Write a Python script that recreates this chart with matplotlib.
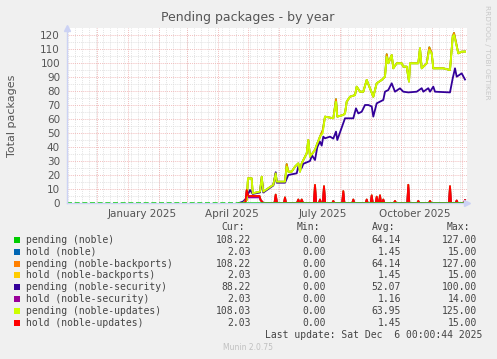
import numpy as np
import matplotlib
matplotlib.use("Agg")
import matplotlib.pyplot as plt
import matplotlib.dates as mdates
from matplotlib.patches import Rectangle

# days counted from 2024-11-01 (left edge of the year graph)
start = np.datetime64('2024-11-01')
end = np.datetime64('2025-12-06')

# pending (noble-updates)
upd_days = [172, 176, 179.7, 181, 184.7, 185.7, 193, 194.7, 196.3, 206.3, 208.7, 209.7,
            218, 219.7, 221.3, 224.7, 228, 231.3, 233, 234.7, 239.7, 241.3, 243, 248,
            249.7, 253, 255.7, 258, 266.3, 269, 270.3, 276.3, 278, 279.7, 283, 288,
            289.7, 293, 296.3, 299.7, 306.3, 309.7, 314.7, 318, 319.7, 321.3, 324.7, 326.3,
            329.7, 334.7, 336.3, 339.7, 342, 343, 351.3, 353, 354.7, 359.7, 362.3, 364.7,
            366.3, 376.3, 383, 385.7, 387, 391.3, 394.7, 398]
upd_vals = [0, 0, 2.1, 17.6, 17.6, 6.9, 8.1, 18.8, 8.1, 12.9, 21.2, 15.2,
            15.2, 26, 22.4, 22.4, 26, 28.3, 22.4, 28.3, 35.5, 45, 33.1, 37.9,
            41.4, 47.4, 49.8, 61.7, 60.5, 72.4, 61.7, 62.9, 64, 72.4, 75.9, 77.1,
            83.1, 79.5, 79.5, 87.9, 75.9, 85.5, 87.9, 90.2, 104.5, 99.8, 105.7, 96.2,
            99.8, 99.8, 97.4, 97.4, 86.7, 99.8, 99.8, 110.5, 96.2, 99.8, 109.3, 106.9,
            96.2, 96.2, 95, 118.8, 120, 106.9, 108.1, 108]

# pending (noble) == pending (noble-backports), a little above updates at peaks
noble_vals = [0, 0, 2.1, 17.6, 17.6, 6.9, 8.1, 18.8, 8.1, 12.9, 21.2, 15.2,
              15.2, 27.8, 22.4, 22.4, 26, 28.3, 22.4, 28.3, 35.5, 45, 33.1, 37.9,
              41.4, 47.4, 51.8, 61.7, 60.5, 74.2, 61.7, 62.9, 64, 72.4, 75.9, 77.1,
              83.1, 79.5, 79.5, 87.9, 75.9, 85.5, 87.9, 90.2, 106.3, 99.8, 105.7, 96.2,
              99.8, 99.8, 97.4, 97.4, 86.7, 99.8, 99.8, 110.5, 96.2, 99.8, 111.2, 106.9,
              96.2, 96.2, 95, 118.8, 121.5, 106.9, 108.1, 108.2]

# pending (noble-security)
sec_days = [172, 176, 179, 183, 185.7, 193, 194.7, 196.3, 206.3, 208.7, 209.7, 218,
            221.3, 229.7, 231.3, 234.7, 236.3, 243, 245, 248, 250.3, 253, 254.7, 256.3,
            258, 263, 266.3, 269, 270.3, 278, 286.3, 289, 291.3, 294.7, 298, 301.3,
            304.7, 306.3, 309.7, 316.3, 318, 321.3, 324.7, 328, 333, 336.3, 341.3, 349.7,
            354.7, 356.3, 361.3, 363, 366.3, 368, 383, 385.7, 388, 389.7, 394.7, 398]
sec_vals = [0, 1, 3, 9.3, 6.5, 7.5, 17, 7.5, 12.5, 22, 14.5, 14.5,
            20, 21.2, 26, 25, 28, 30, 34, 30.7, 40, 43.8, 41, 47.4,
            46.2, 47.4, 46, 51, 45, 60.5, 60.5, 67.6, 64, 65.2, 70, 70,
            69, 61.7, 71.2, 73.6, 79.5, 80.7, 85.5, 79.5, 81.9, 79.5, 79, 79.5,
            82, 79.5, 82, 79.5, 83.1, 79.5, 79, 89, 96.2, 90.2, 92.6, 88.2]

# hold (noble / noble-backports / noble-updates) -- identical series
hold_days = [172, 177, 178.5, 179.7, 181.3, 192.5, 193.7, 196.3,
             207.5, 208.7, 210, 217, 218, 219, 230, 231.3, 232.5, 233.5, 234.7, 236,
             246.8, 248, 249.2, 252, 253, 254, 255.8, 257, 258.2, 265.3, 266.3, 267.3,
             275.2, 276.3, 277.4, 285.3, 286.3, 287.3, 298.7, 299.7, 300.7, 303.7, 304.7, 305.7,
             308.7, 309.7, 311, 312, 313, 314, 315.3, 316.3, 317.3, 327, 328, 329,
             340.3, 341.3, 342.3, 350.3, 351.3, 352.3, 362, 363, 364, 382, 383, 384,
             388.7, 389.7, 390.7, 397, 398]
hold_vals = [0, 0, 1, 9.3, 5, 5, 2, 0,
             0, 6, 0, 0, 4, 0, 0, 2.5, 0, 0, 2.5, 0,
             0, 12.9, 0, 0, 2.5, 0, 0, 12, 0, 0, 1.5, 0,
             0, 8.5, 0, 0, 2.5, 0, 0, 2.5, 0, 0, 5.5, 0,
             0, 4.5, 0, 0, 5.5, 0, 0, 2.5, 0, 0, 1.5, 0,
             0, 13, 0, 0, 1.5, 0, 0, 1.5, 0, 0, 12, 0,
             0, 1.8, 0, 0, 2]
# hold (noble-security)
hsec_vals = [0, 0, 1, 8, 4, 4, 2, 0,
             0, 5, 0, 0, 3, 0, 0, 2, 0, 0, 2, 0,
             0, 10, 0, 0, 2, 0, 0, 10, 0, 0, 1, 0,
             0, 7, 0, 0, 2, 0, 0, 2, 0, 0, 4.5, 0,
             0, 3.5, 0, 0, 4.5, 0, 0, 2, 0, 0, 1, 0,
             0, 11, 0, 0, 1, 0, 0, 1, 0, 0, 10, 0,
             0, 1.5, 0, 0, 2]

labels = ['pending (noble)', 'hold (noble)', 'pending (noble-backports)',
          'hold (noble-backports)', 'pending (noble-security)', 'hold (noble-security)',
          'pending (noble-updates)', 'hold (noble-updates)']
colors = ['#00cc00', '#0066b3', '#ff8000', '#ffcc00', '#330099', '#990099', '#ccff00', '#ff0000']
cur = ['108.22', '2.03', '108.22', '2.03', '88.22', '2.03', '108.03', '2.03']
mins = ['0.00'] * 8
avg = ['64.14', '1.45', '64.14', '1.45', '52.07', '1.16', '63.95', '1.45']
mx = ['127.00', '15.00', '127.00', '15.00', '100.00', '14.00', '125.00', '15.00']

def to_dates(days):
    return mdates.date2num(start) + np.array(days, dtype=float)

W, H = 497, 359
fig = plt.figure(figsize=(W / 100, H / 100), dpi=100)
fig.patch.set_facecolor('#f0f0f0')
ax = fig.add_axes([67 / W, (H - 203) / H, 400 / W, 175 / H])
ax.set_facecolor('white')

x0, x1 = mdates.date2num(start), mdates.date2num(end)
ax.set_xlim(x0, x1)
ax.set_ylim(0, 125)
d0, d1 = mdates.num2date(x0), mdates.num2date(x1)

# grid: grey weekly / every 5, red monthly / every 10
for d in mdates.WeekdayLocator(byweekday=mdates.SA).tick_values(d0, d1):
    ax.axvline(d, color='#dadada', lw=0.6, ls=(0, (1, 1.3)), zorder=0)
for d in mdates.MonthLocator().tick_values(d0, d1):
    ax.axvline(d, color='#eeaaaa', lw=0.6, ls=(0, (1, 1.3)), zorder=0.5)
for v in range(5, 125, 10):
    ax.axhline(v, color='#dadada', lw=0.6, ls=(0, (1, 1.3)), zorder=0)
for v in range(10, 125, 10):
    ax.axhline(v, color='#eeaaaa', lw=0.6, ls=(0, (1, 1.3)), zorder=0.5)

lw = 1.3
ax.plot(to_dates(upd_days), noble_vals, color=colors[0], lw=lw)
ax.plot(to_dates(hold_days), hold_vals, color=colors[1], lw=lw)
ax.plot(to_dates(upd_days), noble_vals, color=colors[2], lw=lw)
ax.plot(to_dates(hold_days), hold_vals, color=colors[3], lw=lw)
ax.plot(to_dates(sec_days), sec_vals, color=colors[4], lw=lw)
ax.plot(to_dates(hold_days), hsec_vals, color=colors[5], lw=lw)
ax.plot(to_dates(upd_days), upd_vals, color=colors[6], lw=lw)
ax.plot(to_dates(hold_days), hold_vals, color=colors[7], lw=lw)
# green zero line: dashed where no data, solid under the data
ax.plot([x0, to_dates(hold_days)[0]], [0, 0], color='#00cc00', lw=1.2, dashes=(3, 1.6))
ax.plot(to_dates(hold_days), np.zeros(len(hold_days)), color='#00cc00', lw=1.1)

ax.set_yticks(range(0, 121, 10))
ax.xaxis.set_major_locator(mdates.MonthLocator(bymonth=[1, 4, 7, 10], bymonthday=15))
ax.xaxis.set_major_formatter(mdates.DateFormatter('%B %Y'))
ax.tick_params(length=0, labelsize=7.5, colors='#555555', pad=4)
ax.tick_params(axis='y', pad=5)

for s in ['top', 'right']:
    ax.spines[s].set_visible(False)
for s in ['left', 'bottom']:
    ax.spines[s].set_color('#ccd2f4')
    ax.spines[s].set_linewidth(1)
ax.plot(0, 1.0, marker='^', color='#ccd2f4', ms=5, transform=ax.transAxes, clip_on=False)
ax.plot(1.0, 0, marker='>', color='#ccd2f4', ms=5, transform=ax.transAxes, clip_on=False)

fig.text(248 / W, 1 - 18 / H, 'Pending packages - by year', ha='center', va='center',
         fontsize=9, color='#555555')
ax.set_ylabel('Total packages', fontsize=8, color='#555555', labelpad=17)
fig.text(487 / W, 1 - 5 / H, 'RRDTOOL / TOBI OETIKER', rotation=270, ha='center', va='top',
         fontsize=5.3, color='#c8c8c8')

# legend block
mono = 'DejaVu Sans Mono'
fs = 7
tc = '#444444'
def fy(y):
    return 1 - y / H
fig.text(245 / W, fy(227), 'Cur:', ha='right', va='center', family=mono, fontsize=fs, color=tc)
fig.text(320 / W, fy(227), 'Min:', ha='right', va='center', family=mono, fontsize=fs, color=tc)
fig.text(395 / W, fy(227), 'Avg:', ha='right', va='center', family=mono, fontsize=fs, color=tc)
fig.text(470 / W, fy(227), 'Max:', ha='right', va='center', family=mono, fontsize=fs, color=tc)
for i, lab in enumerate(labels):
    y = 240 + i * 11.8
    fig.patches.append(Rectangle((14 / W, fy(y + 3)), 6 / W, 6 / H, transform=fig.transFigure,
                                 facecolor=colors[i], edgecolor='none'))
    fig.text(26 / W, fy(y), lab, ha='left', va='center', family=mono, fontsize=fs, color=tc)
    fig.text(251 / W, fy(y), cur[i], ha='right', va='center', family=mono, fontsize=fs, color=tc)
    fig.text(326 / W, fy(y), mins[i], ha='right', va='center', family=mono, fontsize=fs, color=tc)
    fig.text(401 / W, fy(y), avg[i], ha='right', va='center', family=mono, fontsize=fs, color=tc)
    fig.text(477 / W, fy(y), mx[i], ha='right', va='center', family=mono, fontsize=fs, color=tc)
fig.text(482 / W, fy(335), 'Last update: Sat Dec  6 00:00:44 2025', ha='right', va='center',
         family=mono, fontsize=fs, color=tc)
fig.text(248 / W, fy(348), 'Munin 2.0.75', ha='center', va='center', fontsize=5.5, color='#c0c0c0')

fig.savefig('out.png', dpi=100, facecolor=fig.get_facecolor())
